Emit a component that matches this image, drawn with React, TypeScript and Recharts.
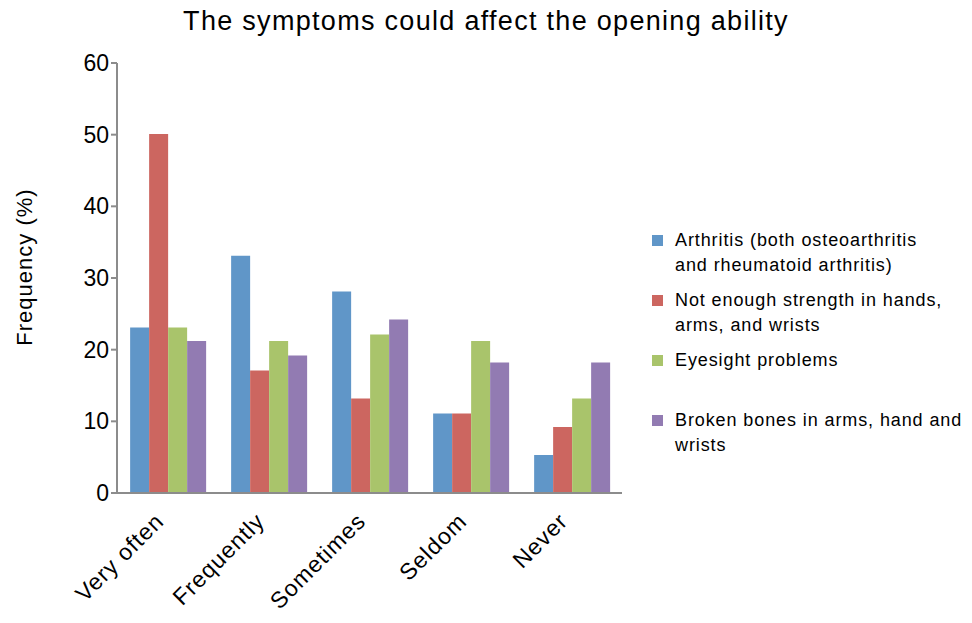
import React from 'react';
import { BarChart, Bar, XAxis, YAxis } from 'recharts';

const categories = ['Very often', 'Frequently', 'Sometimes', 'Seldom', 'Never'];
const arthritis = [23.1, 33.1, 28.1, 11.1, 5.3];
const strength = [50.1, 17.1, 13.2, 11.1, 9.2];
const eyesight = [23.1, 21.2, 22.1, 21.2, 13.2];
const broken = [21.2, 19.2, 24.2, 18.2, 18.2];
const yTicks = [0, 10, 20, 30, 40, 50, 60];

const SERIES = [
  { key: 'arthritis', color: '#6096c8', lines: ['Arthritis (both osteoarthritis', 'and rheumatoid arthritis)'] },
  { key: 'strength', color: '#cc6660', lines: ['Not enough strength in hands,', 'arms, and wrists'] },
  { key: 'eyesight', color: '#a9c46b', lines: ['Eyesight problems'] },
  { key: 'broken', color: '#927bb2', lines: ['Broken bones in arms, hand and', 'wrists'] },
];

const FONT = '"Liberation Sans", Arial, sans-serif';
const AXIS = '#8c8c8c';

const data = categories.map((name, i) => ({
  name,
  arthritis: arthritis[i],
  strength: strength[i],
  eyesight: eyesight[i],
  broken: broken[i],
}));

const XTick = ({ x, y, payload }: any) => (
  <g transform={`translate(${x - 8},${y + 16}) rotate(-45)`}>
    <text x={0} y={0} dy="0.35em" textAnchor="end" fontSize={23} fill="#000" fontFamily={FONT} letterSpacing={1}>
      {payload.value}
    </text>
  </g>
);

const YLabel = () => (
  <text
    transform="translate(32,267) rotate(-90)"
    textAnchor="middle"
    fontSize={22}
    fill="#000"
    fontFamily={FONT}
    letterSpacing={1}
  >
    Frequency (%)
  </text>
);

// legend drawn beside the chart so it doesn't eat plot height
const LegendBox = () => (
  <div
    style={{
      position: 'absolute',
      left: 652,
      top: 228,
      fontFamily: FONT,
      fontSize: 18,
      letterSpacing: 0.9,
      color: '#000',
    }}
  >
    {SERIES.map((s, i) => (
      <div key={s.key} style={{ position: 'absolute', top: i * 60, left: 0, display: 'flex' }}>
        <div style={{ width: 11, height: 11, background: s.color, marginTop: 7, marginRight: 12 }} />
        <div style={{ lineHeight: '25px', whiteSpace: 'nowrap' }}>
          {s.lines.map((l) => (
            <div key={l}>{l}</div>
          ))}
        </div>
      </div>
    ))}
  </div>
);

export default function App() {
  return (
    <div style={{ position: 'absolute', left: 0, top: 0, width: 972, height: 623, background: '#fff' }}>
      <div
        style={{
          position: 'absolute',
          top: 6,
          width: 972,
          textAlign: 'center',
          fontFamily: FONT,
          fontSize: 27,
          letterSpacing: 1.3,
          color: '#000',
        }}
      >
        The symptoms could affect the opening ability
      </div>
      <BarChart
        width={972}
        height={623}
        data={data}
        margin={{ top: 63, right: 350, bottom: 0, left: 57 }}
        barCategoryGap="13%"
        barGap={0}
      >
        <XAxis
          dataKey="name"
          height={130}
          tick={<XTick />}
          tickLine={false}
          axisLine={{ stroke: AXIS, strokeWidth: 2 }}
          interval={0}
        />
        <YAxis
          width={60}
          domain={[0, 60]}
          ticks={yTicks}
          tick={{ fontSize: 23, fill: '#000', fontFamily: FONT }}
          tickLine={{ stroke: AXIS, strokeWidth: 2 }}
          tickSize={6}
          axisLine={{ stroke: AXIS, strokeWidth: 2 }}
        />
        {SERIES.map((s) => (
          <Bar key={s.key} dataKey={s.key} fill={s.color} isAnimationActive={false} />
        ))}
        <YLabel />
      </BarChart>
      <LegendBox />
    </div>
  );
}
